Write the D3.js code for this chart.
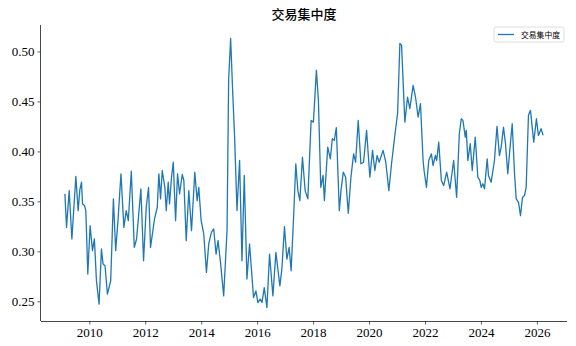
<!DOCTYPE html>
<html>
<head>
<meta charset="utf-8">
<script src="https://cdn.jsdelivr.net/npm/d3@7"></script>
<style>
  body { margin: 0; background: #fff; }
  svg { display: block; }
</style>
</head>
<body>
<script>
// series
const dates = [
  "2009-02-16","2009-03-09","2009-04-13","2009-05-18","2009-07-09","2009-08-08","2009-08-30","2009-09-21",
  "2009-10-04","2009-10-30","2009-11-16","2009-12-12","2010-01-11","2010-02-11","2010-03-08","2010-04-04",
  "2010-05-08","2010-06-08","2010-06-29","2010-07-25","2010-08-25","2010-10-07","2010-11-11","2010-12-11",
  "2011-01-10","2011-02-18","2011-03-28","2011-04-28","2011-05-25","2011-07-03","2011-08-11","2011-09-10",
  "2011-11-05","2011-12-10","2012-01-14","2012-02-13","2012-03-10","2012-05-01","2012-06-06","2012-06-27",
  "2012-07-19","2012-08-10","2012-09-13","2012-10-01","2012-10-27","2012-11-13","2012-12-09","2013-01-01",
  "2013-01-31","2013-02-26","2013-03-24","2013-04-28","2013-05-19","2013-06-19","2013-07-23","2013-08-27",
  "2013-10-09","2013-11-09","2013-11-30","2013-12-31","2014-02-03","2014-03-10","2014-04-09","2014-05-14",
  "2014-06-13","2014-07-14","2014-08-09","2014-09-12","2014-10-21","2014-12-04","2014-12-25","2015-01-20",
  "2015-02-15","2015-03-13","2015-04-13","2015-05-17","2015-06-17","2015-07-17","2015-08-21","2015-09-24",
  "2015-11-15","2015-12-16","2016-01-11","2016-02-10","2016-03-04","2016-04-03","2016-05-08","2016-06-11",
  "2016-07-25","2016-09-02","2016-10-24","2016-11-19","2016-12-23","2017-01-23","2017-02-22","2017-03-20",
  "2017-04-19","2017-05-20","2017-06-16","2017-07-12","2017-08-15","2017-09-19","2017-10-24","2017-12-06",
  "2018-01-05","2018-02-13","2018-03-11","2018-04-11","2018-05-11","2018-05-28","2018-07-11","2018-08-14",
  "2018-09-09","2018-10-05","2018-10-31","2018-12-09","2018-12-31","2019-01-30","2019-03-02","2019-04-05",
  "2019-05-10","2019-06-14","2019-07-10","2019-08-13","2019-09-17","2019-10-22","2019-11-30","2020-01-12",
  "2020-02-16","2020-03-17","2020-04-16","2020-05-12","2020-06-03","2020-07-03","2020-08-07","2020-09-16",
  "2020-10-21","2020-12-03","2021-01-08","2021-02-07","2021-03-01","2021-04-13","2021-05-18","2021-06-17",
  "2021-07-30","2021-08-30","2021-10-03","2021-11-03","2021-12-07","2021-12-20","2022-01-20","2022-02-19",
  "2022-03-26","2022-04-16","2022-05-17","2022-06-03","2022-06-29","2022-08-03","2022-09-02","2022-10-11",
  "2022-11-23","2023-01-10","2023-02-18","2023-03-25","2023-04-20","2023-05-11","2023-06-11","2023-06-24",
  "2023-07-15","2023-08-15","2023-09-10","2023-10-19","2023-11-22","2023-12-18","2024-01-05","2024-01-26",
  "2024-02-17","2024-03-23","2024-04-09","2024-05-14","2024-06-26","2024-07-29","2024-08-30","2024-09-22",
  "2024-10-22","2024-11-17","2024-12-17","2025-01-12","2025-02-13","2025-03-15","2025-04-06","2025-05-06",
  "2025-06-01","2025-06-27","2025-07-23","2025-08-14","2025-09-13","2025-10-09","2025-11-21","2025-12-26",
  "2026-01-21","2026-02-25","2026-03-23"
];

const values = [
  0.3575,0.3240,0.3608,0.3124,0.3749,0.3408,0.3615,0.3692,
  0.3475,0.3458,0.3408,0.2773,0.3257,0.3007,0.3124,0.2706,
  0.2472,0.3024,0.2873,0.2856,0.2572,0.2706,0.3525,0.3007,
  0.3307,0.3776,0.3240,0.3408,0.3307,0.3802,0.3040,0.3124,
  0.3625,0.2906,0.3441,0.3641,0.3040,0.3324,0.3441,0.3776,
  0.3525,0.3809,0.3641,0.3408,0.3692,0.3475,0.3742,0.3892,
  0.3307,0.3776,0.3575,0.3769,0.3709,0.3107,0.3608,0.3207,
  0.3792,0.3508,0.3641,0.3307,0.3174,0.2789,0.3074,0.3190,
  0.3224,0.2973,0.3107,0.2873,0.2555,0.3207,0.4712,0.5130,
  0.4611,0.4143,0.3408,0.3909,0.2906,0.3759,0.2723,0.3074,
  0.2538,0.2605,0.2488,0.2522,0.2488,0.2638,0.2438,0.2973,
  0.2555,0.2989,0.2655,0.2823,0.3247,0.2923,0.3040,0.2806,
  0.3307,0.3876,0.3608,0.3508,0.3942,0.3608,0.3525,0.4310,
  0.4293,0.4812,0.4511,0.3641,0.3759,0.3508,0.4043,0.3926,
  0.4127,0.4110,0.4237,0.3408,0.3608,0.3792,0.3742,0.3381,
  0.3742,0.3976,0.3892,0.4310,0.3876,0.3892,0.4210,0.3742,
  0.4010,0.3809,0.3959,0.3892,0.3942,0.4010,0.3892,0.3608,
  0.3876,0.4160,0.4378,0.5080,0.5063,0.4293,0.4544,0.4428,
  0.4661,0.4544,0.4344,0.4478,0.3909,0.3809,0.3641,0.3909,
  0.3976,0.3859,0.3959,0.3909,0.4093,0.3709,0.3658,0.3792,
  0.3625,0.3909,0.3541,0.4177,0.4327,0.4310,0.4143,0.4210,
  0.3909,0.4077,0.3809,0.4143,0.3742,0.3709,0.3641,0.3676,
  0.3625,0.3926,0.3759,0.3692,0.3909,0.4250,0.3959,0.4043,
  0.4243,0.4077,0.3776,0.4010,0.4277,0.3776,0.3525,0.3491,
  0.3358,0.3541,0.3558,0.3641,0.4361,0.4411,0.4093,0.4327,
  0.4160,0.4227,0.4160
];

const seriesName = "交易集中度";
const yTicks = [0.25, 0.30, 0.35, 0.40, 0.45, 0.50];

const W = 576, H = 346;
const margin = {top: 25, right: 9, bottom: 25, left: 41};
const tickFont = "'Liberation Serif', 'Times New Roman', serif";

const parse = d3.timeParse("%Y-%m-%d");
const data = dates.map((d, i) => ({date: parse(d), value: values[i]}));

const svg = d3.select("body").append("svg")
  .attr("width", W)
  .attr("height", H);

// matplotlib style 5% margins
const xExt = d3.extent(data, d => d.date);
const xPad = (xExt[1] - xExt[0]) * 0.05;
const x = d3.scaleTime()
  .domain([new Date(+xExt[0] - xPad), new Date(+xExt[1] + xPad)])
  .range([margin.left, W - margin.right]);

const yExt = d3.extent(values);
const yPad = (yExt[1] - yExt[0]) * 0.05;
const y = d3.scaleLinear()
  .domain([yExt[0] - yPad, yExt[1] + yPad])
  .range([H - margin.bottom, margin.top]);

const xAxis = svg.append("g")
  .attr("transform", `translate(0,${H - margin.bottom})`)
  .call(d3.axisBottom(x).ticks(d3.timeYear.every(2)).tickFormat(d3.timeFormat("%Y")).tickSize(3.5).tickPadding(3));

const yAxis = svg.append("g")
  .attr("transform", `translate(${margin.left},0)`)
  .call(d3.axisLeft(y).tickValues(yTicks).tickFormat(d3.format(".2f")).tickSize(3.5).tickPadding(3));

[xAxis, yAxis].forEach(g => {
  g.attr("font-family", null).attr("font-size", null);
  g.selectAll(".tick text")
    .style("font-family", tickFont)
    .style("font-size", "13px")
    .attr("fill", "#000");
  g.select(".domain").attr("stroke", "#333").attr("stroke-width", 0.9);
  g.selectAll(".tick line").attr("stroke", "#333").attr("stroke-width", 0.8);
});
// drop the end caps of the axis path so spines look like matplotlib
xAxis.select(".domain").attr("d", `M${margin.left},0.5H${W - margin.right}`);
yAxis.select(".domain").attr("d", `M-0.5,${margin.top}V${H - margin.bottom}`);

const line = d3.line()
  .x(d => x(d.date))
  .y(d => y(d.value));

svg.append("path")
  .datum(data)
  .attr("fill", "none")
  .attr("stroke", "#1f77b4")
  .attr("stroke-width", 1.3)
  .attr("stroke-linejoin", "round")
  .attr("d", line);

// title
svg.append("text")
  .attr("x", (margin.left + W - margin.right) / 2)
  .attr("y", 19)
  .attr("text-anchor", "middle")
  .style("font-family", "'Noto Sans CJK SC', sans-serif")
  .style("font-size", "13px")
  .style("font-weight", 500)
  .text(seriesName);

// legend
const lg = svg.append("g").attr("transform", "translate(494,27)");
lg.append("rect")
  .attr("width", 70).attr("height", 15)
  .attr("rx", 2)
  .attr("fill", "#fff")
  .attr("stroke", "#d5d5d5")
  .attr("stroke-width", 0.8);
lg.append("line")
  .attr("x1", 4).attr("x2", 20)
  .attr("y1", 7.5).attr("y2", 7.5)
  .attr("stroke", "#1f77b4")
  .attr("stroke-width", 1.3);
lg.append("text")
  .attr("x", 27).attr("y", 10.5)
  .style("font-family", "'Noto Sans CJK SC', sans-serif")
  .style("font-size", "7.8px")
  .text(seriesName);
</script>
</body>
</html>
